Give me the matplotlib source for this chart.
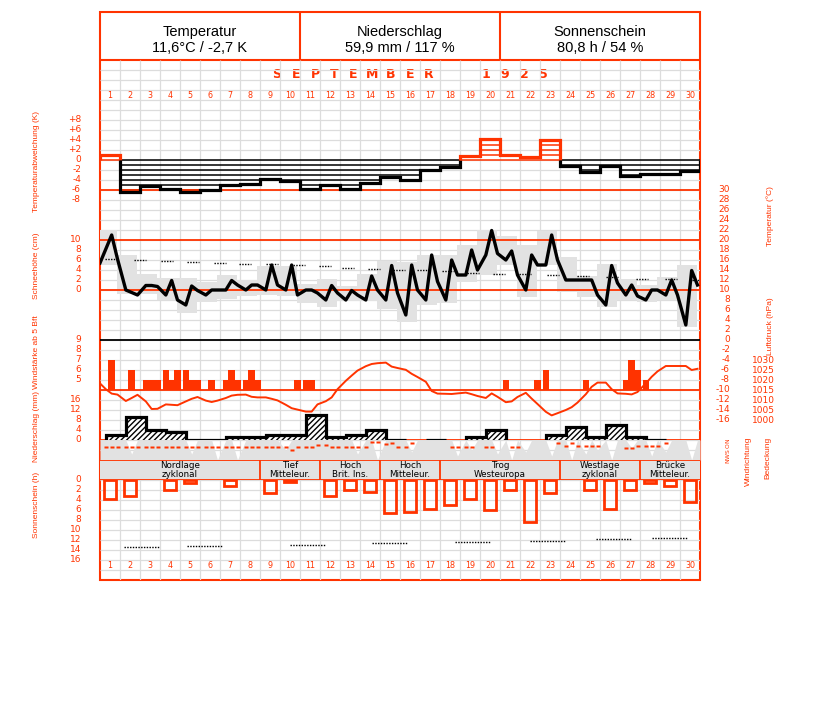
import numpy as np
import matplotlib
matplotlib.use("Agg")
import matplotlib.pyplot as plt
from matplotlib.patches import Rectangle
from matplotlib.transforms import blended_transform_factory

RED = "#ff3300"
GRID = "#dcdcdc"
GRAY = "#e2e2e2"

# ---- Daten September 1925 ----
header_titles = ["Temperatur", "Niederschlag", "Sonnenschein"]
header_values = ["11,6°C / -2,7 K", "59,9 mm / 117 %", "80,8 h / 54 %"]
days = list(range(1, 31))

# Abweichung Tagesmitteltemperatur (K)
temp_dev = [1.1, -6.5, -5.3, -5.9, -6.5, -6.1, -5.0, -4.7, -3.7, -4.2,
            -5.8, -5.1, -5.9, -4.5, -3.3, -4.0, -2.0, -1.3, 0.9, 4.2,
            1.1, 0.7, 4.1, -1.2, -2.3, -1.2, -3.1, -2.7, -2.7, -2.2]

# Terminwerte Temperatur (°C) 7h / 14h / 21h
temp_prev = 15.4
temp_obs = [[18.2, 21.0, 16.2], [10.0, 9.5, 9.0], [10.9, 10.9, 10.7], [9.0, 11.9, 8.0],
            [7.0, 10.8, 9.9], [9.0, 10.0, 10.0], [10.0, 11.9, 11.0], [10.0, 11.0, 11.0],
            [10.0, 15.0, 11.0], [10.0, 15.0, 9.0], [10.0, 10.0, 9.4], [8.0, 10.9, 9.4],
            [8.0, 9.9, 9.0], [8.0, 12.8, 10.0], [8.0, 14.9, 9.4], [5.0, 15.0, 10.0],
            [8.0, 17.0, 11.7], [8.0, 16.0, 13.0], [13.0, 18.0, 14.0], [17.0, 21.9, 17.3],
            [16.0, 17.8, 13.0], [10.0, 17.0, 15.0], [15.0, 21.0, 16.0], [12.0, 12.0, 12.0],
            [12.0, 12.0, 9.0], [7.0, 14.9, 11.4], [9.0, 11.0, 8.8], [8.0, 10.0, 10.0],
            [9.0, 12.0, 9.0], [3.0, 13.9, 11.0]]
temp_max = [22.0, 17.0, 13.3, 12.5, 12.5, 11.7, 13.0, 12.0, 14.8, 14.8,
            11.3, 12.3, 10.8, 13.2, 15.9, 15.7, 17.0, 17.0, 19.0, 22.1,
            20.8, 19.0, 21.9, 16.7, 12.8, 15.2, 12.3, 11.0, 12.7, 15.0]
temp_min = [15.0, 9.3, 9.3, 8.0, 5.5, 7.7, 8.3, 8.8, 9.0, 8.8,
            7.5, 6.7, 7.9, 7.9, 6.3, 3.7, 7.0, 7.5, 11.7, 13.0,
            15.0, 8.7, 15.0, 9.7, 8.7, 6.7, 8.0, 7.7, 8.0, 2.7]
# langjähriges Mittel (gepunktet)
clim_day = [0.53, 1.98, 3.33, 4.63, 5.98, 7.27, 8.58, 9.95, 11.23, 12.42, 13.68, 14.97,
            16.17, 17.42, 18.67, 19.93, 21.25, 22.67, 24.17, 25.58, 27.08, 28.53, 29.9]
clim_temp = [16.3, 16.1, 15.9, 15.7, 15.5, 15.3, 15.2, 15.0, 14.8, 14.5, 14.3, 14.1,
             14.0, 13.8, 13.5, 13.3, 13.2, 13.0, 12.8, 12.7, 12.3, 12.2, 12.0]

# Windstärke (Bft) je Termin, 0 = unter 5 Bft
wind_bft = [[0, 7, 0], [0, 6, 0], [5, 5, 5], [6, 5, 6], [6, 5, 5], [0, 5, 0], [5, 6, 5], [5, 6, 5],
            [0, 0, 0], [0, 0, 5], [5, 5, 0], [0, 0, 0], [0, 0, 0], [0, 0, 0], [0, 0, 0],
            [0, 0, 0], [0, 0, 0], [0, 0, 0], [0, 0, 0], [0, 0, 0], [5, 0, 0], [0, 0, 5],
            [6, 0, 0], [0, 0, 0], [5, 0, 0], [0, 0, 0], [5, 7, 6], [5, 0, 0], [0, 0, 0], [0, 0, 0]]

# Luftdruck (hPa) je Termin
press_prev = 1018.3
press_obs = [[1015.4, 1013.2, 1012.7], [1009.5, 1011.0, 1012.6], [1009.3, 1005.5, 1005.6],
             [1007.8, 1007.6, 1007.4], [1009.3, 1010.6, 1011.5], [1009.7, 1009.0, 1009.7],
             [1011.0, 1012.2, 1012.6], [1012.7, 1011.6, 1011.3], [1011.3, 1010.6, 1009.8],
             [1007.6, 1005.9, 1005.2], [1004.2, 1004.2, 1007.8], [1009.4, 1011.3, 1015.4],
             [1019.6, 1022.2, 1024.7], [1026.9, 1028.0, 1028.4], [1028.7, 1026.7, 1026.0],
             [1025.1, 1023.1, 1021.5], [1019.1, 1014.5, 1013.2], [1013.1, 1013.0, 1013.3],
             [1013.7, 1012.9, 1012.0], [1011.0, 1013.3, 1011.6], [1008.9, 1009.3, 1011.5],
             [1013.6, 1010.7, 1008.0], [1004.1, 1002.3, 1003.4], [1005.0, 1006.4, 1008.7],
             [1012.9, 1016.6, 1018.7], [1018.7, 1015.4, 1013.3], [1013.1, 1012.8, 1014.0],
             [1018.3, 1021.6, 1024.3], [1027.0, 1027.0, 1027.0], [1027.0, 1025.0, 1025.6]]

# Niederschlag (mm), Messung 7h bis 7h
precip = [2.0, 9.1, 4.0, 3.1, 0.1, 0.1, 1.1, 1.1, 2.0, 2.0,
          10.0, 1.1, 2.0, 4.0, 0.1, 0.0, 0.1, 0.0, 1.1, 4.0,
          0.0, 0.0, 2.0, 5.1, 1.1, 6.0, 1.1, 0.1, 0.0, 0.0]

# Windrichtung (Grad) je Termin, None = fehlt
wind_dir = [[105, 105, 105], [105, 105, 105], [105, 105, 105], [105, 105, 105], [105, 105, 105],
            [105, 105, 105], [105, 105, 105], [105, 105, 105], [105, 105, 105], [105, 170, 105],
            [105, 105, 70], [70, 105, 105], [105, 105, 105], [105, 20, 20], [60, 40, 105],
            [105, 30, None], [None, None, None], [None, 100, 100], [100, 100, None], [100, 100, None],
            [None, 100, 100], [None, None, None], [None, None, 30], [90, 30, 90], [90, 90, 90],
            [None, None, None], [120, 120, 90], [90, 90, 90], [30, None, None], [None, None, None]]

# Bedeckung (0-10) je Termin
cloud = [[10, 10, 10], [10, 3, 10], [10, 10, 10], [10, 10, 10], [10, 3, 10],
         [10, 10, 0], [10, 10, 0], [10, 10, 10], [10, 10, 10], [5, 10, 10],
         [10, 10, 10], [10, 10, 10], [10, 10, 3], [10, 10, 0], [10, 10, 10],
         [10, 4, 10], [10, 10, 10], [10, 10, 2], [10, 5, 10], [10, 10, 3],
         [10, 0, 10], [4, 10, 10], [10, 2, 10], [10, 0, 10], [3, 10, 5],
         [10, 0, 10], [10, 6, 10], [10, 2, 10], [4, 10, 10], [10, 0, 10]]

# Großwetterlagen
gwl_names = ["Nordlage\nzyklonal", "Tief\nMitteleur.", "Hoch\nBrit. Ins.", "Hoch\nMitteleur.",
             "Trog\nWesteuropa", "Westlage\nzyklonal", "Brücke\nMitteleur."]
gwl_first = [1, 9, 12, 15, 18, 24, 28]

# Sonnenschein (h) und astronomisch mögliche Dauer (gepunktet)
sun = [3.8, 3.2, 0.0, 2.0, 0.6, 0.0, 1.2, 0.0, 2.6, 0.4,
       0.0, 3.2, 2.0, 2.4, 6.6, 6.4, 5.8, 5.0, 3.8, 6.0,
       2.0, 8.4, 2.6, 0.0, 2.0, 5.8, 2.0, 0.6, 1.2, 4.4]
sun_len_day = [2.08, 5.25, 10.38, 14.5, 18.63, 22.38, 25.68, 28.5]
sun_len = [13.4, 13.2, 13.0, 12.6, 12.4, 12.2, 11.8, 11.6]

# ---- Zeichnen ----
plt.rcParams["font.family"] = ["DejaVu Sans"]
SANS = ["Liberation Sans", "DejaVu Sans"]

W, H = 827, 702
fig = plt.figure(figsize=(W / 100, H / 100), dpi=100)


def px_axes(y_top, y_bot, x_left=100, x_right=700):
    ax = fig.add_axes([x_left / W, 1 - y_bot / H, (x_right - x_left) / W, (y_bot - y_top) / H])
    ax.patch.set_visible(False)
    ax.set_axis_off()
    return ax


base = px_axes(0, H, 0, W)
base.set_xlim(0, W)
base.set_ylim(H, 0)

# Rahmen in Tagen (x) und Pixeln (y)
frame = px_axes(12, 580)
frame.set_xlim(0, 30)
frame.set_ylim(580, 12)
frame.vlines(np.arange(1, 30), 60, 580, color=GRID, lw=0.9, zorder=0)
frame.hlines(np.arange(70, 580, 10), 0, 30, color=GRID, lw=0.9, zorder=0)


def labels(ax, vals, texts, x_px, ha="right", size=6.5, **kw):
    tr = blended_transform_factory(base.transData, ax.transData)
    for v, t in zip(vals, texts):
        base.text(x_px, v, t, transform=tr, ha=ha, va="center", color=RED,
                  fontsize=size, **kw)


def day_axes(y_top, y_bot, lo, hi):
    ax = px_axes(y_top, y_bot)
    ax.set_xlim(0, 30)
    ax.set_ylim(lo, hi)
    return ax


x_obs = (np.arange(30)[:, None] + np.array([7, 14, 21]) / 24).ravel()

# Temperaturabweichung
ax_dev = day_axes(120, 200, -8, 8)
dev = np.array(temp_dev)
for i, v in enumerate(dev):
    lev = np.arange(0, int(abs(v)) + 1) * np.sign(v)
    ax_dev.hlines(lev, i, i + 1, color=RED if v > 0 else "black", lw=1.1)
ax_dev.axhline(-6, color=RED, lw=1.3, zorder=4)
edges = np.arange(31)
pos = dev > 0
start = 0
for i in range(1, 31):
    if i == 30 or pos[i] != pos[start]:
        ax_dev.stairs(dev[start:i], edges[start:i + 1], baseline=0,
                      ec=RED if pos[start] else "black", lw=2.3, zorder=5)
        start = i
dev_ticks = [8, 6, 4, 2, 0, -2, -4, -6, -8]
labels(ax_dev, dev_ticks, [f"{t:+d}" if t else "0" for t in dev_ticks], 81)

# Temperatur
ax_t = day_axes(190, 420, -16, 30)
tmax, tmin = np.array(temp_max), np.array(temp_min)
ax_t.bar(np.arange(30) - 0.15, tmax - tmin, bottom=tmin, width=1, align="edge",
         color=GRAY, lw=0, zorder=1)
cd = np.array(clim_day)
ax_t.hlines(clim_temp, cd - 0.3, cd + 0.3, colors="black", lw=1, linestyles=(0, (1, 1)), zorder=2)
ax_t.axhline(20, color=RED, lw=1.3, zorder=2.5)
ax_t.axhline(10, color=RED, lw=1.3, zorder=2.5)
ax_t.axhline(0, color="black", lw=1.3, zorder=2.5)
ax_t.plot(np.r_[0, x_obs], np.r_[temp_prev, np.ravel(temp_obs)], color="black", lw=2.4, zorder=3)
t_ticks = list(range(30, -17, -2))
labels(ax_t, t_ticks, [str(t) for t in t_ticks], 730)

# Schneehöhe (keine Werte)
ax_snow = day_axes(240, 290, 0, 10)
labels(ax_snow, [10, 8, 6, 4, 2, 0], ["10", "8", "6", "4", "2", "0"], 81)

# Windstärke
ax_w = day_axes(340, 390, 4, 9)
bft = np.ravel(wind_bft).astype(float)
strong = bft >= 5
ax_w.bar(x_obs[strong], bft[strong] - 4, bottom=4, width=1 / 3, color=RED, lw=0)
labels(ax_w, [9, 8, 7, 6, 5], ["9", "8", "7", "6", "5"], 81)

# Luftdruck
ax_p = day_axes(360, 420, 1000, 1030)
ax_p.axhline(1015, color=RED, lw=1.3)
ax_p.plot(np.r_[0, x_obs], np.r_[press_prev, np.ravel(press_obs)], color=RED, lw=1.4)
p_ticks = list(range(1030, 999, -5))
labels(ax_p, p_ticks, [str(p) for p in p_ticks], 775)

# Niederschlag
ax_r = day_axes(400, 440, 0, 16)
rr = np.array(precip)
ax_r.axhline(0, color=RED, lw=1.3)
ax_r.bar(np.arange(30) + 7 / 24, rr, width=1, align="edge", fc="white", ec="black",
         lw=0, hatch="//////", zorder=2)
redges = np.arange(31) + 7 / 24
wet = rr > 0
start = None
for i in range(31):
    if i < 30 and wet[i] and start is None:
        start = i
    elif (i == 30 or not wet[i]) and start is not None:
        ax_r.stairs(rr[start:i], redges[start:i + 1], baseline=0, ec="black", lw=2.3, zorder=3)
        start = None
labels(ax_r, [16, 12, 8, 4, 0], ["16", "12", "8", "4", "0"], 81)

# Bedeckung
ax_c = day_axes(440, 460, 0, 10)
cc = np.ravel(cloud).astype(float)
ax_c.fill_between(np.r_[0, x_obs, 30], 0, np.r_[cc[0], cc, cc[-1]], color=GRAY, lw=0)

# Windrichtung
ax_d = day_axes(441, 461, 360, 0)
wd = np.array(wind_dir, dtype=float).ravel()
ax_d.plot(x_obs, wd, ls="none", marker=[(-1, -0.55), (1, -0.55), (1, 0.55), (-1, 0.55)],
          ms=3.4, color=RED, mec="none")
tr_d = blended_transform_factory(base.transData, ax_d.transData)
for v, t in zip([0, 90, 180, 270, 360], ["N", "O", "S", "W", "N"]):
    base.text(728, v, t, transform=tr_d, ha="center", va="center", rotation=90,
              color=RED, fontsize=4.3)

# Großwetterlagen
ax_g = day_axes(460, 480, 0, 1)
ax_g.axvspan(0, 30, color=GRAY, lw=0)
bounds = [d - 1 for d in gwl_first] + [30]
for name, a, b in zip(gwl_names, bounds[:-1], bounds[1:]):
    ax_g.text((a + b) / 2, 0.5, name, ha="center", va="center", fontsize=6.3,
              linespacing=1.05)
ax_g.vlines(bounds[1:-1], 0, 1, color=RED, lw=1.3)
ax_g.axhline(1, color=RED, lw=1.3)
ax_g.axhline(0, color=RED, lw=1.3)

# Sonnenschein
ax_s = day_axes(480, 560, 16, 0)
ss = np.array(sun)
sunny = ss > 0
ax_s.bar(np.arange(30)[sunny] + 0.5, ss[sunny], width=0.6, fc="none", ec=RED, lw=2)
sd = np.array(sun_len_day)
ax_s.hlines(sun_len, sd - 0.9, sd + 0.9, colors="black", lw=1, linestyles=(0, (1, 1)))
s_ticks = list(range(0, 17, 2))
labels(ax_s, s_ticks, [str(s) for s in s_ticks], 81)

# Rahmen, Kopf und Beschriftung
base.add_patch(Rectangle((100, 12), 600, 568, fill=False, ec=RED, lw=1.5, zorder=10))
base.hlines(60, 100, 700, color=RED, lw=1.5, zorder=10)
base.vlines([300, 500], 12, 60, color=RED, lw=1.5, zorder=10)
for k, (ttl, val) in enumerate(zip(header_titles, header_values)):
    base.text(200 + 200 * k, 32, ttl, ha="center", va="center", fontsize=10.5, family=SANS)
    base.text(200 + 200 * k, 48, val, ha="center", va="center", fontsize=10.5, family=SANS)

for k, ch in enumerate("SEPTEMBER  1925"):
    if ch != " ":
        base.text(277 + 19 * k, 75, ch, ha="center", va="center", fontsize=9,
                  weight="bold", color=RED)

for d in days:
    frame.text(d - 0.5, 96, str(d), ha="center", va="center", fontsize=5.8, color=RED)
    frame.text(d - 0.5, 566, str(d), ha="center", va="center", fontsize=5.8, color=RED)

left_titles = [("Temperaturabweichung (K)", 161), ("Schneehöhe (cm)", 266),
               ("Windstärke ab 5 Bft", 352), ("Niederschlag (mm)", 427),
               ("Sonnenschein (h)", 505)]
for txt, y in left_titles:
    base.text(37, y, txt, rotation=90, ha="center", va="center", color=RED,
              fontsize=6, family=SANS)
right_titles = [("Temperatur (°C)", 770, 216), ("Luftdruck (hPa)", 770, 326),
                ("Windrichtung", 748, 461), ("Bedeckung", 768, 458)]
for txt, x, y in right_titles:
    base.text(x, y, txt, rotation=90, ha="center", va="center", color=RED,
              fontsize=6, family=SANS)

fig.savefig("out.png", dpi=100)
